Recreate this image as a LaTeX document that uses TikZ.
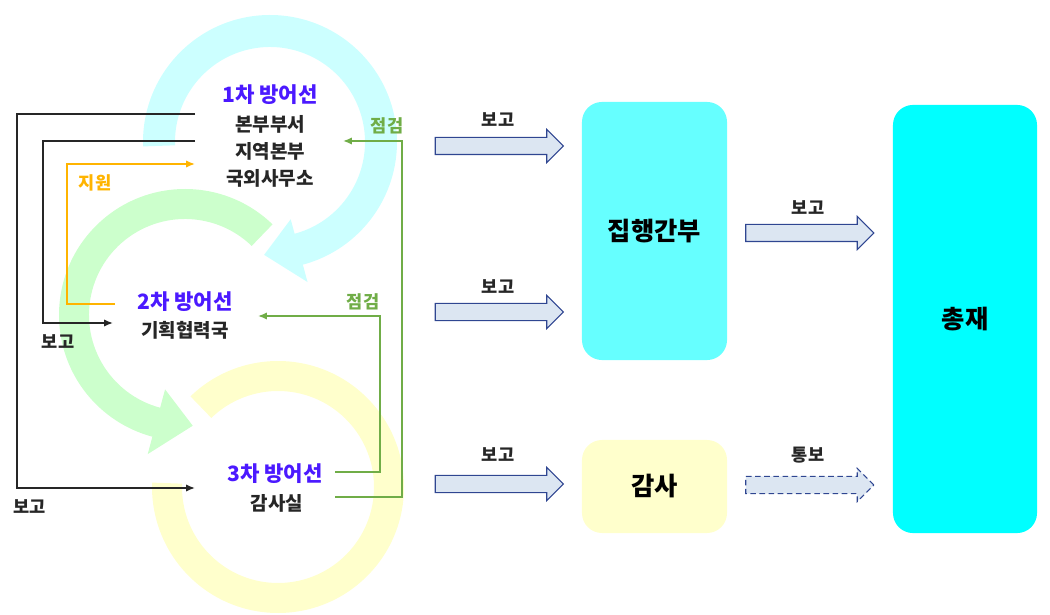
\documentclass[tikz,border=0pt]{standalone}
\usepackage{fontspec}
\setmainfont{Noto Sans CJK KR}
\usetikzlibrary{arrows.meta,shapes.arrows}

\definecolor{titleblue}{RGB}{75,25,255}
\definecolor{ringcyan}{RGB}{204,255,255}
\definecolor{ringgreen}{RGB}{204,255,204}
\definecolor{ringyellow}{RGB}{255,255,204}
\definecolor{chkgreen}{RGB}{112,173,71}
\definecolor{supporange}{RGB}{255,180,0}
\definecolor{arrowfill}{RGB}{220,230,242}
\definecolor{arrowedge}{RGB}{47,70,145}
\definecolor{execcyan}{RGB}{102,255,255}
\definecolor{chiefcyan}{RGB}{0,255,255}

\begin{document}
\begin{tikzpicture}[
  x=0.025cm, y=-0.025cm,
  title/.style={font=\bfseries\fontsize{15}{17}\selectfont, text=titleblue},
  unit/.style={font=\bfseries\fontsize{13.5}{15}\selectfont, text=black!85},
  lbl/.style={font=\bfseries\fontsize{12.5}{14}\selectfont, text=black!85},
  chk/.style={lbl, text=chkgreen},
  report/.style={line width=1.1pt, black!85, -{Latex[length=2.2mm,width=1.8mm]}},
  checkline/.style={line width=1.1pt, chkgreen, -{Latex[length=2.2mm,width=1.8mm]}},
  supportline/.style={line width=1.1pt, supporange, -{Latex[length=2.2mm,width=1.8mm]}},
  box/.style={rounded corners=0.5cm, minimum width=3.625cm, font=\bfseries\fontsize{18}{20}\selectfont},
  fat/.style={single arrow, draw=arrowedge, fill=arrowfill, line width=0.8pt,
    minimum height=3.2cm, single arrow head extend=0.2cm,
    single arrow tip angle=90, inner xsep=0pt, inner ysep=0.2cm},
  fatdash/.style={fat, dash pattern=on 4pt off 2.5pt}
]
\useasboundingbox (0,0) rectangle (1050,615);

% --- three lines of defence (rings) ---
\begin{scope}[shift={(278,487)}]
  \fill[ringyellow] (-134:126) arc[start angle=-134, end angle=182, radius=126]
    -- (182:96) arc[start angle=182, end angle=-134, radius=96] -- cycle;
\end{scope}
\begin{scope}[shift={(185,315)}]
  \fill[ringgreen] (-46:126) arc[start angle=-46, end angle=-255, radius=126]
    -- (-255:144) -- (-274:111) -- (-255:77) -- (-255:96)
    arc[start angle=-255, end angle=-46, radius=96] -- cycle;
\end{scope}
\begin{scope}[shift={(270,142)}]
  \fill[ringcyan] (178:127) arc[start angle=178, end angle=435, radius=127]
    -- (435:145) -- (453:113) -- (435:80) -- (435:95)
    arc[start angle=435, end angle=178, radius=95] -- cycle;
\end{scope}

% --- 1st line ---
\node[title] (t1) at (270,95) {1차 방어선};
\node[unit] (u1a) at (270,124) {본부부서};
\node[unit] (u1b) at (270,151) {지역본부};
\node[unit] (u1c) at (270,178) {국외사무소};

% --- 2nd line ---
\node[title] (t2) at (185,302) {2차 방어선};
\node[unit] (u2) at (185,330) {기획협력국};

% --- 3rd line ---
\node[title] (t3) at (275,474) {3차 방어선};
\node[unit] (u3) at (277,503) {감사실};

% --- line ends ---
\coordinate (hq) at (195,114);
\coordinate (rg) at (195,141);
\coordinate (ov) at (195,164);
\coordinate (pl) at (115,304);
\coordinate (plin) at (113,323);
\coordinate (auin) at (195,488);
\coordinate (auout) at (335,497);
\coordinate (t3out) at (335,472);
\coordinate (chkin1) at (343,141);
\coordinate (chkin2) at (258,316);

\draw[report] (hq) -- (17,114) -- (17,488) -- (auin);
\draw[report] (rg) -- (43,141) -- (43,323) -- (plin);
\draw[supportline] (pl) -- (67,304) -- (67,164) -- (ov);
\draw[checkline] (auout) -- (402,497) -- (402,141) -- (chkin1);
\draw[checkline] (t3out) -- (380,472) -- (380,316) -- (chkin2);

\node[lbl] (rep1) at (30,507) {보고};
\node[lbl] (rep2) at (58,342) {보고};
\node[lbl, text=supporange] (sup) at (95,183) {지원};
\node[chk] (chk1) at (387,126) {점검};
\node[chk] (chk2) at (363,302) {점검};

% --- reporting boxes ---
\node[box, fill=execcyan, minimum height=6.45cm] (exec) at (654.5,231) {집행간부};
\node[box, fill=ringyellow, minimum height=2.325cm] (audit) at (654.5,486.5) {감사};
\node[box, fill=chiefcyan, minimum width=3.6cm, minimum height=10.7cm] (chief) at (965,319) {총재};

\node[fat] (a1) at (495,146) {};
\node[fat] (a2) at (495,312) {};
\node[fat] (a3) at (495,484) {};
\node[fat] (a4) at (805.5,233) {};
\node[fatdash] (a5) at (805.5,485) {};

\node[lbl] at (498,120) {보고};
\node[lbl] at (498,287) {보고};
\node[lbl] at (498,455) {보고};
\node[lbl] at (808,208) {보고};
\node[lbl] at (808,455) {통보};

\end{tikzpicture}
\end{document}
